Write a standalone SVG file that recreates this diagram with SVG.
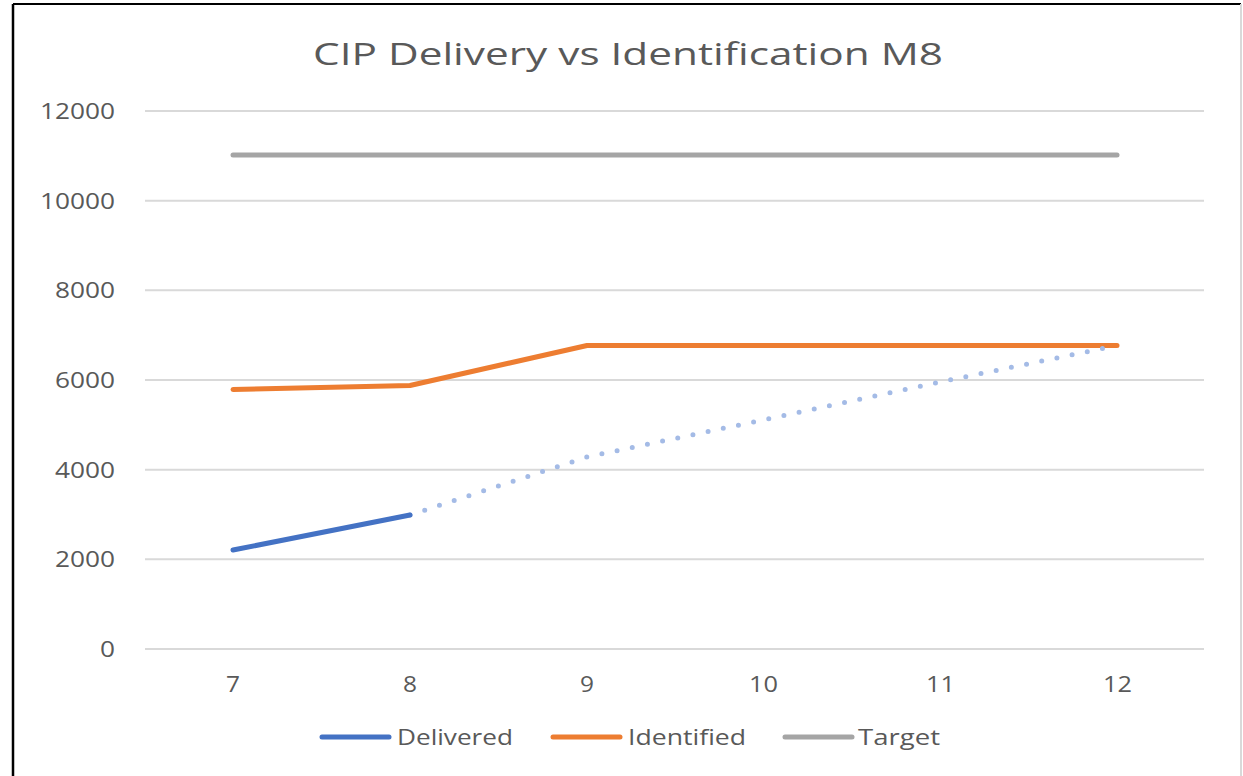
<svg xmlns="http://www.w3.org/2000/svg" width="1243" height="776" viewBox="0 0 1243 776">
<style>
.t{font-family:"Open Sans","Liberation Sans",sans-serif;fill:#595959}
.ax{font-size:22px}
.grid{stroke:#d9d9d9;stroke-width:2}
.ser{fill:none;stroke-width:5;stroke-linecap:round;stroke-linejoin:round}
</style>
<rect x="0" y="0" width="1243" height="776" fill="#fff"/>
<g id="frame">
<line x1="13" y1="4" x2="1241" y2="4" stroke="#000" stroke-width="2"/>
<line x1="13" y1="4" x2="13" y2="776" stroke="#000" stroke-width="2.5"/>
<line x1="1241" y1="4" x2="1241" y2="776" stroke="#d9d9d9" stroke-width="2"/>
</g>
<g id="title"><text class="t" x="313" y="65" font-size="31" textLength="630" lengthAdjust="spacingAndGlyphs">CIP Delivery vs Identification M8</text></g>
<g id="gridlines">
<line class="grid" x1="145" y1="649" x2="1204" y2="649"/>
<line class="grid" x1="145" y1="559.3" x2="1204" y2="559.3"/>
<line class="grid" x1="145" y1="469.7" x2="1204" y2="469.7"/>
<line class="grid" x1="145" y1="380" x2="1204" y2="380"/>
<line class="grid" x1="145" y1="290.3" x2="1204" y2="290.3"/>
<line class="grid" x1="145" y1="200.7" x2="1204" y2="200.7"/>
<line class="grid" x1="145" y1="111" x2="1204" y2="111"/>
</g>
<g id="y-axis" class="t ax">
<text x="100" y="657" textLength="15" lengthAdjust="spacingAndGlyphs">0</text>
<text x="55" y="567" textLength="60" lengthAdjust="spacingAndGlyphs">2000</text>
<text x="55" y="478" textLength="60" lengthAdjust="spacingAndGlyphs">4000</text>
<text x="55" y="388" textLength="60" lengthAdjust="spacingAndGlyphs">6000</text>
<text x="55" y="298" textLength="60" lengthAdjust="spacingAndGlyphs">8000</text>
<text x="40" y="209" textLength="75" lengthAdjust="spacingAndGlyphs">10000</text>
<text x="40" y="119" textLength="75" lengthAdjust="spacingAndGlyphs">12000</text>
</g>
<g id="x-axis" class="t ax">
<text x="226" y="692" textLength="14" lengthAdjust="spacingAndGlyphs">7</text>
<text x="403" y="692" textLength="14" lengthAdjust="spacingAndGlyphs">8</text>
<text x="580" y="692" textLength="14" lengthAdjust="spacingAndGlyphs">9</text>
<text x="749" y="692" textLength="29" lengthAdjust="spacingAndGlyphs">10</text>
<text x="926" y="692" textLength="29" lengthAdjust="spacingAndGlyphs">11</text>
<text x="1103" y="692" textLength="29" lengthAdjust="spacingAndGlyphs">12</text>
</g>
<g id="connectors">
<polyline id="target" class="ser" stroke="#a5a5a5" points="233,155 1117,155"/>
<polyline id="identified" class="ser" stroke="#ed7d31" points="233,389.5 410,385.5 587,345.5 763,345.5 940,345.5 1117,345.5"/>
<polyline id="delivered-forecast" class="ser" stroke="#a4bbe6" stroke-width="6" stroke-dasharray="0 15.5" points="410,515 587,457 763,420 940,382 1117,345.5"/>
<polyline id="delivered" class="ser" stroke="#4472c4" points="233,550 410,515"/>
</g>
<g id="legend">
<line class="ser" stroke="#4472c4" x1="322" y1="737" x2="389" y2="737"/>
<text class="t ax" x="397" y="745" textLength="116" lengthAdjust="spacingAndGlyphs">Delivered</text>
<line class="ser" stroke="#ed7d31" x1="553" y1="737" x2="620" y2="737"/>
<text class="t ax" x="628" y="745" textLength="118" lengthAdjust="spacingAndGlyphs">Identified</text>
<line class="ser" stroke="#a5a5a5" x1="785" y1="737" x2="852" y2="737"/>
<text class="t ax" x="858" y="745" textLength="82" lengthAdjust="spacingAndGlyphs">Target</text>
</g>
</svg>
